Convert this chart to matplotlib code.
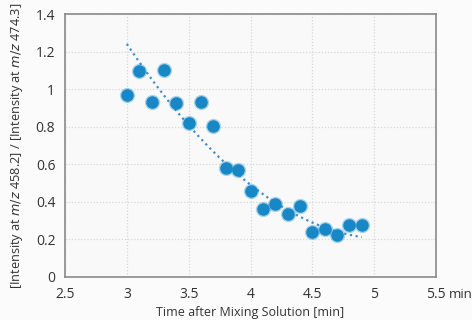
import matplotlib.pyplot as plt
import numpy as np

plt.rcParams['font.family'] = ['Open Sans', 'DejaVu Sans']

# data
time_min = [3.0, 3.1, 3.2, 3.3, 3.4, 3.5, 3.6, 3.7, 3.8, 3.9,
            4.0, 4.1, 4.2, 4.3, 4.4, 4.5, 4.6, 4.7, 4.8, 4.9]
ratio = [0.97, 1.096, 0.933, 1.103, 0.924, 0.821, 0.933, 0.804, 0.578, 0.569,
         0.459, 0.360, 0.388, 0.335, 0.378, 0.240, 0.257, 0.222, 0.277, 0.277]
# points
trend_x = [3.0, 3.5, 4.0, 4.5, 4.9]
trend_y = [1.235, 0.82, 0.49, 0.277, 0.22]
x_ticks = [2.5, 3, 3.5, 4, 4.5, 5, 5.5]
y_ticks = [0, 0.2, 0.4, 0.6, 0.8, 1, 1.2, 1.4]

fig = plt.figure(figsize=(4.72, 3.2), dpi=100)
fig.patch.set_facecolor('#fbfbfb')
ax = fig.add_axes([65 / 472, 1 - 277 / 320, (436 - 65) / 472, (277 - 14) / 320])
ax.set_facecolor('#f9f9f9')

# trend line (2nd order polynomial through the read points)
coef = np.polyfit(trend_x, trend_y, 2)
xs = np.linspace(trend_x[0], trend_x[-1], 100)
ax.plot(xs, np.polyval(coef, xs), linestyle=(0, (1, 1.6)), color='#3d8fd6', lw=1.6, zorder=2)

# soft-edged markers
ax.plot(time_min, ratio, 'o', ms=11, color='#1a8ac8', alpha=0.35, mec='none', zorder=3)
ax.plot(time_min, ratio, 'o', ms=9, color='#1787c6', mec='none', zorder=4)

ax.set_xlim(2.5, 5.5)
ax.set_ylim(0, 1.4)
ax.set_xticks(x_ticks)
ax.set_xticklabels([f'{t:g}' for t in x_ticks])
ax.set_yticks(y_ticks)
ax.set_yticklabels([f'{t:g}' for t in y_ticks])
ax.grid(True, color='#d8d8d8', linestyle=(0, (1, 1.5)), lw=0.9)
ax.set_axisbelow(True)
for s in ax.spines.values():
    s.set_color('#8a8a8a')
    s.set_linewidth(1.2)
ax.tick_params(length=0, labelsize=10, colors='#333333', pad=7)

ax.set_xlabel('Time after Mixing Solution [min]', fontsize=9, color='#333333', labelpad=3)
ax.set_ylabel(r'[Intensity at $\mathit{m/z}$ 458.2] / [Intensity at $\mathit{m/z}$ 474.3]',
              fontsize=9.2, color='#333333', labelpad=8)
fig.text(449 / 472, 1 - 295 / 320, 'min', fontsize=9.5, color='#333333', va='center', ha='left')

fig.savefig('out.png', dpi=100, facecolor=fig.get_facecolor())
